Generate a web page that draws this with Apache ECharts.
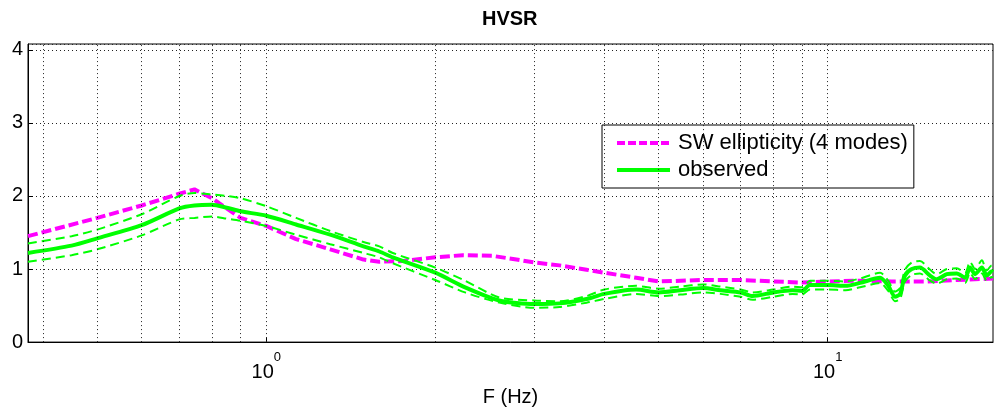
<!DOCTYPE html>
<html><head><meta charset="utf-8">
<script src="https://cdn.jsdelivr.net/npm/echarts@6/dist/echarts.min.js"></script>
<style>html,body{margin:0;padding:0;background:#fff}#c{width:994px;height:412px}</style>
</head><body><div id="c"></div>
<script>
// SW ellipticity (4 modes)
const swFreq = [0.3764,0.5,0.6,0.7,0.745,0.8,0.85,0.9,1.0,1.13,1.3,1.49,1.59,1.75,2.0,2.24,2.53,2.79,3.0,3.33,3.72,4.0,4.56,5.0,6.0,7.0,8.0,9.0,10.0,11.4,13.0,15.0,17.0,19.7];
const swVals = [1.45,1.70,1.87,2.03,2.09,1.97,1.83,1.70,1.59,1.41,1.27,1.13,1.10,1.11,1.16,1.19,1.18,1.13,1.09,1.05,0.99,0.95,0.88,0.83,0.85,0.85,0.83,0.815,0.83,0.84,0.83,0.83,0.85,0.87];
// observed HVSR (mean and +/- bounds)
const obsFreq = [0.3764,0.45,0.5,0.6,0.7,0.745,0.8,0.85,0.9,1.0,1.13,1.3,1.49,1.59,1.68,2.0,2.26,2.6,3.0,3.33,3.72,4.0,4.56,5.0,5.46,6.0,6.44,7.0,7.35,8.0,8.66,9.0,9.3,10.0,10.76,11.42,12.4,12.82,13.18,13.46,13.73,14.12,14.6,15.22,15.64,16.3,16.98,17.57,17.93,18.3,18.82,19.2,19.6,19.7];
const obsVals = [1.22,1.32,1.42,1.60,1.83,1.87,1.88,1.84,1.79,1.73,1.61,1.47,1.31,1.24,1.16,0.95,0.75,0.57,0.52,0.53,0.59,0.66,0.72,0.68,0.71,0.74,0.71,0.68,0.63,0.68,0.71,0.70,0.78,0.78,0.77,0.81,0.88,0.77,0.62,0.66,0.91,1.00,1.02,0.91,0.86,0.93,0.94,0.88,1.02,0.93,1.02,0.91,0.97,0.96];
const obsUpper = [1.35,1.45,1.54,1.75,2.00,2.04,2.02,2.00,1.97,1.86,1.70,1.52,1.37,1.31,1.22,1.02,0.84,0.61,0.57,0.56,0.63,0.72,0.77,0.73,0.76,0.79,0.76,0.72,0.68,0.72,0.76,0.75,0.84,0.84,0.83,0.87,0.95,0.84,0.69,0.74,0.99,1.09,1.11,0.99,0.93,1.00,1.01,0.95,1.10,1.00,1.12,0.98,1.05,1.04];
const obsLower = [1.10,1.19,1.27,1.46,1.68,1.70,1.72,1.69,1.66,1.59,1.47,1.34,1.22,1.16,1.08,0.85,0.68,0.54,0.47,0.48,0.54,0.59,0.66,0.63,0.65,0.68,0.66,0.62,0.58,0.62,0.66,0.65,0.72,0.72,0.71,0.75,0.81,0.70,0.56,0.59,0.83,0.92,0.94,0.84,0.80,0.86,0.87,0.81,0.95,0.86,0.94,0.84,0.89,0.88];
// axis ticks
const xGridTicks = [0.4,0.5,0.6,0.7,0.8,0.9,1,2,3,4,5,6,7,8,9,10];
const yTicks = [0,1,2,3,4];

const FONT = '"Liberation Sans", Arial, Helvetica, sans-serif';
const CLEAR = 'rgba(0,0,0,0)';
const zip = (xs, ys) => xs.map((x, i) => [x, ys[i]]);
const expOf = v => { const e = Math.log10(v); return Math.abs(e - Math.round(e)) > 1e-6 ? null : Math.round(e); };
const chart = echarts.init(document.getElementById('c'), null, {renderer: 'canvas'});

const baseAxis = {
  type: 'log', logBase: 10, min: 0.3764, max: 19.7, gridIndex: 0, position: 'bottom'
};

const option = {
  animation: false,
  backgroundColor: '#fff',
  title: {
    text: 'HVSR', left: 482, top: 9, padding: 0,
    textStyle: {fontFamily: FONT, fontSize: 20, fontWeight: 'bold', color: '#000'}
  },
  legend: {
    data: [
      {name: 'SW ellipticity (4 modes)', itemStyle: {opacity: 0}, lineStyle: {color: '#ff00ff', width: 4, type: [8, 3]}},
      {name: 'observed', itemStyle: {opacity: 0}, lineStyle: {color: '#00ff00', width: 4, type: 'solid'}}
    ],
    orient: 'vertical', left: 602, top: 125, padding: [7, 6, 7, 13],
    itemGap: 5, itemWidth: 53, itemHeight: 14,
    borderColor: '#000', borderWidth: 1, backgroundColor: '#fff', borderRadius: 0,
    selectedMode: false,
    textStyle: {fontFamily: FONT, fontSize: 22, color: '#000', padding: [0, 0, 0, 3]}
  },
  grid: {left: 28, right: 1, top: 44, bottom: 69, show: true, borderColor: '#000', borderWidth: 1, backgroundColor: '#fff'},
  xAxis: [
    Object.assign({}, baseAxis, {
      name: 'F (Hz)', nameLocation: 'middle', nameGap: 44,
      nameTextStyle: {fontFamily: FONT, fontSize: 20, color: '#000'},
      axisLine: {lineStyle: {color: '#000', width: 1}},
      axisTick: {inside: true, length: 5, lineStyle: {color: '#000'}},
      splitLine: {show: false},
      axisLabel: {
        showMinLabel: false, showMaxLabel: false, margin: 19,
        formatter: v => { const e = expOf(v); return e === null ? '' : '{b|10}{t|' + e + '}'; },
        rich: {
          b: {fontFamily: FONT, fontSize: 20, lineHeight: 22, color: '#000'},
          t: {fontFamily: FONT, fontSize: 13, lineHeight: 22, color: CLEAR}
        }
      }
    }),
    Object.assign({}, baseAxis, {
      axisLine: {show: false}, axisTick: {show: false}, splitLine: {show: false},
      axisLabel: {
        showMinLabel: false, showMaxLabel: false, margin: 4,
        formatter: v => { const e = expOf(v); return e === null ? '' : '{tb|10}{s|' + e + '}'; },
        rich: {
          tb: {fontFamily: FONT, fontSize: 20, lineHeight: 22, color: CLEAR},
          s: {fontFamily: FONT, fontSize: 13, lineHeight: 22, color: '#000'}
        }
      }
    })
  ],
  yAxis: {
    type: 'value', min: 0, max: 4.08, interval: 1,
    axisLine: {show: true, lineStyle: {color: '#000', width: 1}},
    axisTick: {inside: true, length: 5, lineStyle: {color: '#000'}},
    axisLabel: {
      margin: 5, showMaxLabel: false, fontFamily: FONT, fontSize: 20, color: '#000',
      formatter: v => (yTicks.indexOf(v) >= 0 ? String(v) : '')
    },
    splitLine: {show: true, lineStyle: {color: '#222', type: [1, 3], width: 1}}
  },
  series: [
    {
      name: 'SW ellipticity (4 modes)', type: 'line', data: zip(swFreq, swVals),
      symbol: 'none', smooth: false, z: 2,
      lineStyle: {color: '#ff00ff', width: 4, type: [10, 4]}, itemStyle: {color: '#ff00ff'},
      markLine: {
        silent: true, symbol: ['none', 'none'], label: {show: false},
        lineStyle: {color: '#222', type: [1, 3], width: 1},
        emphasis: {disabled: true},
        data: xGridTicks.map(v => ({xAxis: v}))
      }
    },
    {
      name: 'observed', type: 'line', data: zip(obsFreq, obsVals),
      symbol: 'none', smooth: 0.25, z: 3,
      lineStyle: {color: '#00ff00', width: 4}, itemStyle: {color: '#00ff00'}
    },
    {
      name: 'observed upper', type: 'line', data: zip(obsFreq, obsUpper),
      symbol: 'none', smooth: 0.25, z: 3,
      lineStyle: {color: '#00ff00', width: 2, type: [9, 5]}, itemStyle: {color: '#00ff00'}
    },
    {
      name: 'observed lower', type: 'line', data: zip(obsFreq, obsLower),
      symbol: 'none', smooth: 0.25, z: 3,
      lineStyle: {color: '#00ff00', width: 2, type: [9, 5]}, itemStyle: {color: '#00ff00'}
    }
  ]
};
chart.setOption(option);
</script>
</body></html>
